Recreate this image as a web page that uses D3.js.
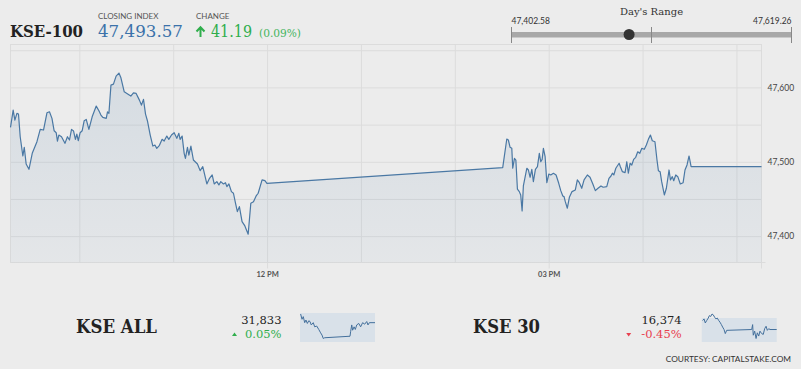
<!DOCTYPE html>
<html>
<head>
<meta charset="utf-8">
<script src="https://cdn.jsdelivr.net/npm/d3@7"></script>
<style>
  html, body { margin: 0; padding: 0; background: #ececec; }
  svg { display: block; }
</style>
</head>
<body>
<svg id="chart" width="801" height="369"></svg>
<script>
// KSE-100 intraday (time, index level)
const times = [
  "09:16:00","09:17:42","09:18:48","09:20:06","09:21:06","09:22:12","09:23:54","09:24:48","09:26:00","09:27:48",
  "09:29:54","09:32:54","09:35:00","09:37:06","09:39:18","09:40:54","09:42:30","09:43:54","09:45:12","09:46:00",
  "09:46:54","09:48:36","09:50:48","09:52:24","09:53:42","09:55:00","09:56:18","09:57:30","09:58:24","09:59:18",
  "10:00:30","10:01:48","10:03:06","10:04:24","10:06:06","10:08:12","10:10:48","10:12:30","10:13:48","10:15:00",
  "10:17:12","10:18:00","10:18:54","10:20:12","10:21:48","10:23:30","10:25:18","10:26:30","10:28:42","10:30:24",
  "10:32:54","10:34:36","10:36:18","10:38:24","10:39:42","10:41:00","10:42:18","10:43:30","10:45:18","10:47:00",
  "10:48:18","10:49:30","10:51:12","10:52:54","10:54:12","10:55:54","10:57:12","10:58:54","11:00:36","11:02:18",
  "11:03:36","11:04:24","11:05:42","11:07:00","11:07:48","11:09:06","11:10:00","11:11:18","11:12:54","11:15:30",
  "11:17:12","11:18:54","11:21:30","11:23:12","11:24:54","11:26:12","11:27:54","11:29:12","11:30:24","11:32:06",
  "11:33:24","11:34:18","11:35:36","11:37:12","11:38:30","11:39:48","11:41:00","11:42:18","11:44:00","11:45:48",
  "11:47:54","11:49:36","11:51:18","11:53:00","11:54:18","11:56:48","11:58:36","11:59:54",
  "14:30:36","14:33:12","14:34:12","14:35:18","14:36:24","14:37:00","14:38:06","14:39:00","14:40:00","14:41:12",
  "14:42:06","14:43:00","14:43:48","14:46:00","14:47:00","14:48:06","14:49:12","14:50:12","14:51:30","14:52:48",
  "14:54:00","14:54:54","14:55:48","14:56:36","14:57:42","14:58:48","15:00:06","15:01:18","15:03:00","15:04:42",
  "15:06:24","15:07:42","15:09:00","15:09:48","15:10:36","15:11:54","15:13:12","15:14:54","15:17:00","15:18:18",
  "15:19:36","15:21:06","15:22:36","15:24:42","15:26:24","15:28:12","15:29:48","15:31:30","15:33:24","15:34:48",
  "15:37:06","15:38:30","15:39:48","15:40:42","15:41:36","15:42:54","15:45:00","15:45:48","15:47:06","15:48:48",
  "15:49:54","15:50:54","15:52:00","15:53:06","15:54:18","15:55:36","15:56:54","15:58:12","15:59:30","16:01:06",
  "16:02:24","16:03:42","16:05:00","16:06:12","16:07:54","16:09:12","16:10:06","16:11:12","16:12:12","16:13:54",
  "16:15:12","16:16:54","16:17:48","16:19:00","16:19:54","16:21:12","16:22:30","16:24:06","16:25:54","16:27:06",
  "16:28:24","16:29:42","16:31:00","17:16:00"
];
const values = [
  47546.3,47569.5,47556.1,47565.1,47564.2,47533.7,47507.8,47519.5,47497.0,47489.9,
  47511.4,47527.0,47543.6,47542.7,47565.9,47567.2,47558.4,47541.7,47539.1,47527.9,
  47536.0,47533.7,47524.8,47533.7,47529.3,47543.6,47541.3,47530.2,47537.3,47528.3,
  47539.1,47541.7,47555.2,47557.0,47543.6,47560.5,47574.9,47568.6,47562.8,47559.7,
  47558.4,47567.2,47565.1,47603.1,47604.4,47615.2,47619.3,47613.4,47594.1,47591.9,
  47588.3,47592.7,47591.9,47582.9,47576.2,47583.9,47564.2,47555.2,47536.0,47521.2,
  47522.5,47518.1,47522.1,47530.2,47527.9,47534.6,47530.2,47536.0,47539.1,47531.5,
  47538.3,47530.2,47534.6,47511.4,47504.7,47519.5,47509.1,47521.2,47502.4,47497.0,
  47488.1,47493.4,47470.2,47477.8,47482.3,47470.2,47473.3,47468.9,47473.3,47470.2,
  47471.9,47466.6,47470.2,47459.9,47457.7,47444.3,47433.0,47439.7,47419.6,47413.8,
  47402.6,47444.3,47446.4,47454.1,47457.7,47475.6,47474.6,47471.1,
  47492.1,47530.6,47529.3,47519.5,47518.1,47491.3,47504.7,47502.4,47463.1,47459.9,
  47455.4,47434.0,47467.5,47491.3,47489.0,47479.2,47489.9,47473.3,47489.9,47493.4,
  47511.4,47500.1,47503.3,47518.1,47506.8,47471.9,47483.6,47482.3,47484.6,47482.3,
  47471.1,47461.2,47454.1,47453.2,47446.4,47437.6,47452.3,47459.9,47462.1,47475.6,
  47471.9,47464.4,47475.6,47482.3,47479.2,47470.2,47461.2,47464.4,47467.5,47465.8,
  47466.6,47477.8,47480.9,47484.6,47482.3,47491.3,47498.0,47493.4,47486.7,47485.4,
  47500.1,47484.6,47498.0,47495.7,47503.3,47506.0,47513.5,47511.4,47518.1,47516.8,
  47522.5,47530.2,47536.0,47528.3,47527.0,47502.4,47488.1,47486.7,47473.3,47455.4,
  47464.4,47489.0,47475.6,47480.0,47474.6,47482.3,47480.0,47470.2,47471.9,47489.0,
  47495.7,47507.8,47493.57,47493.57
];

// headline figures
const closingIndex = 47493.57;
const change = 41.19;
const changePct = 0.09;
const dayLow = 47402.58;
const dayHigh = 47619.26;

// axis ticks
const yGridValues = [47400, 47450, 47500, 47550, 47600, 47650];
const yLabelValues = [47400, 47500, 47600];
const xLabelTimes = ["12:00:00", "15:00:00"];

// KSE ALL sparkline
const allTimes = ["09:20","09:29","09:37","09:46","09:54","10:03","10:12","10:20","10:28","10:41","10:50","11:03","11:16","11:28","11:37","11:45","11:54",
  "14:36","14:40","14:47","14:53","15:02","15:10","15:19","15:32","15:44","15:57","16:10","16:23","16:31","16:40","17:16"];
const allValues = [31856,31842,31849,31833,31840,31831,31838,31836,31827,31833,31822,31824,31815,31806,31800,31791,31793,
  31797,31809,31827,31813,31822,31815,31827,31831,31822,31833,31829,31836,31827,31833,31833];

// KSE 30 sparkline
const k30Times = ["09:22","09:31","09:39","09:48","09:58","10:05","10:14","10:22","10:30","10:39","10:47","10:56","11:05","11:13","11:22","11:30","11:39","11:47","11:56",
  "14:36","14:42","14:46","14:55","15:04","15:12","15:21","15:29","15:40","15:50","15:59","16:08","16:16","16:25","16:33","17:16"];
const k30Values = [16396,16400,16390,16396,16402,16408,16406,16412,16410,16404,16400,16402,16396,16392,16386,16380,16374,16364,16372,
  16374,16386,16360,16370,16352,16366,16358,16370,16364,16362,16376,16382,16372,16376,16374,16374];

const summary = [
  { name: "KSE ALL", nameX: 76, nameW: 81, value: "31,833", pct: "0.05%", up: true, right: 281.5,
    box: { x0: 300, x1: 375, y0: 313, y1: 342 }, times: allTimes, vals: allValues },
  { name: "KSE 30", nameX: 473, nameW: 67, value: "16,374", pct: "-0.45%", up: false, right: 681.7,
    box: { x0: 701.7, x1: 776.7, y0: 318, y1: 342 }, times: k30Times, vals: k30Values }
];

const serif = "'DejaVu Serif', serif";
const sans = "Lato, 'Open Sans', sans-serif";
const green = "#2fae4c";
const red = "#e8404f";
const lineColor = "#4a78a4";

const svg = d3.select("#chart");
const parseTime = d3.timeParse("%H:%M:%S");
const parseHM = d3.timeParse("%H:%M");
const data = times.map((t, i) => ({ t: parseTime(t), v: values[i] }));

const plot = { left: 10.5, right: 761.5, top: 44.5, bottom: 262.5 };
const dayStart = parseTime("09:16:00"), dayEnd = parseTime("17:16:00");

const x = d3.scaleTime().domain([dayStart, dayEnd]).range([plot.left, plot.right]);
const y = d3.scaleLinear().domain([47364.6, 47657.7]).range([plot.bottom, plot.top]);

const defs = svg.append("defs");
const grad = defs.append("linearGradient").attr("id", "areaGrad")
  .attr("x1", 0).attr("y1", 0).attr("x2", 0).attr("y2", 1);
grad.append("stop").attr("offset", "0%").attr("stop-color", "#4a78a4").attr("stop-opacity", 0.14);
grad.append("stop").attr("offset", "100%").attr("stop-color", "#4a78a4").attr("stop-opacity", 0.05);

// frame
svg.append("rect")
  .attr("x", plot.left).attr("y", plot.top)
  .attr("width", plot.right - plot.left).attr("height", plot.bottom - plot.top)
  .attr("fill", "none").attr("stroke", "#dcdcdc");

// horizontal grid + right labels
const yAxis = svg.append("g")
  .attr("transform", `translate(${plot.right},0)`)
  .call(d3.axisRight(y)
    .tickValues(yGridValues)
    .tickSize(-(plot.right - plot.left))
    .tickPadding(6)
    .tickFormat(d => yLabelValues.includes(d) ? d3.format(",")(d) : ""));
yAxis.select(".domain").remove();
yAxis.selectAll(".tick line").attr("stroke", "#dcdcdc");
yAxis.selectAll(".tick text")
  .attr("fill", "#444").attr("font-family", sans).attr("font-size", 8.5);

// vertical grid + bottom labels
const labelDates = xLabelTimes.map(parseTime);
const isLabel = d => labelDates.some(l => +l === +d);
const xAxis = svg.append("g")
  .attr("transform", `translate(0,${plot.bottom})`)
  .call(d3.axisBottom(x)
    .ticks(d3.timeHour.every(1))
    .tickSize(-(plot.bottom - plot.top))
    .tickPadding(9)
    .tickFormat(d => isLabel(d) ? d3.timeFormat("%I %p")(d) : ""));
xAxis.select(".domain").remove();
xAxis.selectAll(".tick line").attr("stroke", "#dcdcdc");
xAxis.selectAll(".tick text")
  .attr("fill", "#555").attr("font-family", sans).attr("font-size", 7.5).attr("font-weight", "bold");
xAxis.selectAll(".tick").filter(isLabel)
  .append("line").attr("y1", 0).attr("y2", 6).attr("stroke", "#dcdcdc");
svg.append("line")
  .attr("x1", plot.right).attr("x2", plot.right)
  .attr("y1", plot.bottom).attr("y2", plot.bottom + 6).attr("stroke", "#dcdcdc");
svg.append("line")
  .attr("x1", plot.right).attr("x2", plot.right + 4)
  .attr("y1", plot.bottom).attr("y2", plot.bottom).attr("stroke", "#dcdcdc");

// area + line
svg.append("path").datum(data)
  .attr("fill", "url(#areaGrad)")
  .attr("d", d3.area().x(d => x(d.t)).y0(plot.bottom).y1(d => y(d.v)));
svg.append("path").datum(data)
  .attr("fill", "none").attr("stroke", lineColor).attr("stroke-width", 1.2)
  .attr("stroke-linejoin", "round")
  .attr("d", d3.line().x(d => x(d.t)).y(d => y(d.v)));

// header
const fmt2 = d3.format(",.2f");
const fit = (sel, w) => sel.attr("textLength", w).attr("lengthAdjust", "spacingAndGlyphs");
svg.append("text").attr("x", 10).attr("y", 37)
  .attr("font-family", serif).attr("font-weight", "bold").attr("font-size", 16.5).attr("fill", "#222")
  .text("KSE-100").call(fit, 73);
svg.append("text").attr("x", 98).attr("y", 19)
  .attr("font-family", sans).attr("font-size", 8).attr("fill", "#555").text("CLOSING INDEX");
svg.append("text").attr("x", 98).attr("y", 37)
  .attr("font-family", serif).attr("font-size", 16.5).attr("fill", "#3b72aa")
  .text(fmt2(closingIndex)).call(fit, 85);
svg.append("text").attr("x", 196).attr("y", 19)
  .attr("font-family", sans).attr("font-size", 8).attr("fill", "#555").text("CHANGE");
svg.append("path")
  .attr("d", "M200.5,37 V27.5 M196.5,31.5 L200.5,27.2 L204.5,31.5")
  .attr("fill", "none").attr("stroke", green).attr("stroke-width", 2);
svg.append("text").attr("x", 211).attr("y", 37)
  .attr("font-family", serif).attr("font-size", 16.5).attr("fill", green)
  .text(d3.format(".2f")(change)).call(fit, 41);
svg.append("text").attr("x", 259).attr("y", 37)
  .attr("font-family", serif).attr("font-size", 10.5).attr("fill", "#45b560")
  .text(`(${d3.format(".2f")(changePct)}%)`).call(fit, 42);

// day's range
const rx = d3.scaleLinear().domain([dayLow, dayHigh]).range([511.5, 791.5]);
svg.append("text").attr("x", (rx.range()[0] + rx.range()[1]) / 2).attr("y", 15)
  .attr("text-anchor", "middle").attr("font-family", serif).attr("font-size", 10).attr("fill", "#333")
  .text("Day's Range");
svg.append("text").attr("x", rx(dayLow)).attr("y", 23.5)
  .attr("font-family", sans).attr("font-size", 8.5).attr("fill", "#333").text(fmt2(dayLow));
svg.append("text").attr("x", rx(dayHigh)).attr("y", 23.5).attr("text-anchor", "end")
  .attr("font-family", sans).attr("font-size", 8.5).attr("fill", "#333").text(fmt2(dayHigh));
svg.append("rect").attr("x", rx(dayLow)).attr("y", 32)
  .attr("width", rx(dayHigh) - rx(dayLow)).attr("height", 5.5).attr("fill", "#a8a8a8");
[dayLow, (dayLow + dayHigh) / 2, dayHigh].forEach(v => {
  svg.append("line").attr("x1", rx(v)).attr("x2", rx(v)).attr("y1", 27).attr("y2", 43)
    .attr("stroke", "#888").attr("stroke-width", 1);
});
svg.append("circle").attr("cx", rx(closingIndex)).attr("cy", 34.5).attr("r", 5.5).attr("fill", "#333");

// summary row
summary.forEach(s => {
  svg.append("text").attr("x", s.nameX).attr("y", 333)
    .attr("font-family", serif).attr("font-weight", "bold").attr("font-size", 18).attr("fill", "#222")
    .text(s.name).call(fit, s.nameW);
  svg.append("text").attr("x", s.right).attr("y", 323.5).attr("text-anchor", "end")
    .attr("font-family", serif).attr("font-size", 11.5).attr("fill", "#222").text(s.value);
  svg.append("text").attr("x", s.right).attr("y", 338).attr("text-anchor", "end")
    .attr("font-family", serif).attr("font-size", 11.5).attr("fill", s.up ? green : red).text(s.pct);
  const tx = s.up ? s.right - 47 : s.right - 53;
  svg.append("path")
    .attr("d", s.up ? `M${tx - 2.5},336 L${tx + 2.5},336 L${tx},332.5 Z` : `M${tx - 2.5},333 L${tx + 2.5},333 L${tx},336.5 Z`)
    .attr("fill", s.up ? green : red);

  const box = s.box;
  svg.append("rect").attr("x", box.x0).attr("y", box.y0)
    .attr("width", box.x1 - box.x0).attr("height", box.y1 - box.y0).attr("fill", "#d9e1e9");
  const sd = s.times.map((t, j) => ({ t: parseHM(t), v: s.vals[j] }));
  const sx = d3.scaleTime().domain([parseHM("09:16"), parseHM("17:16")]).range([box.x0, box.x1]);
  const sy = d3.scaleLinear().domain(d3.extent(sd, d => d.v)).range([338.5, 314]);
  svg.append("path").datum(sd)
    .attr("fill", "none").attr("stroke", "#44709c").attr("stroke-width", 1)
    .attr("d", d3.line().x(d => sx(d.t)).y(d => sy(d.v)));
});

svg.append("text").attr("x", 791).attr("y", 362).attr("text-anchor", "end")
  .attr("font-family", sans).attr("font-size", 8.3).attr("fill", "#333")
  .text("COURTESY: CAPITALSTAKE.COM");
</script>
</body>
</html>
